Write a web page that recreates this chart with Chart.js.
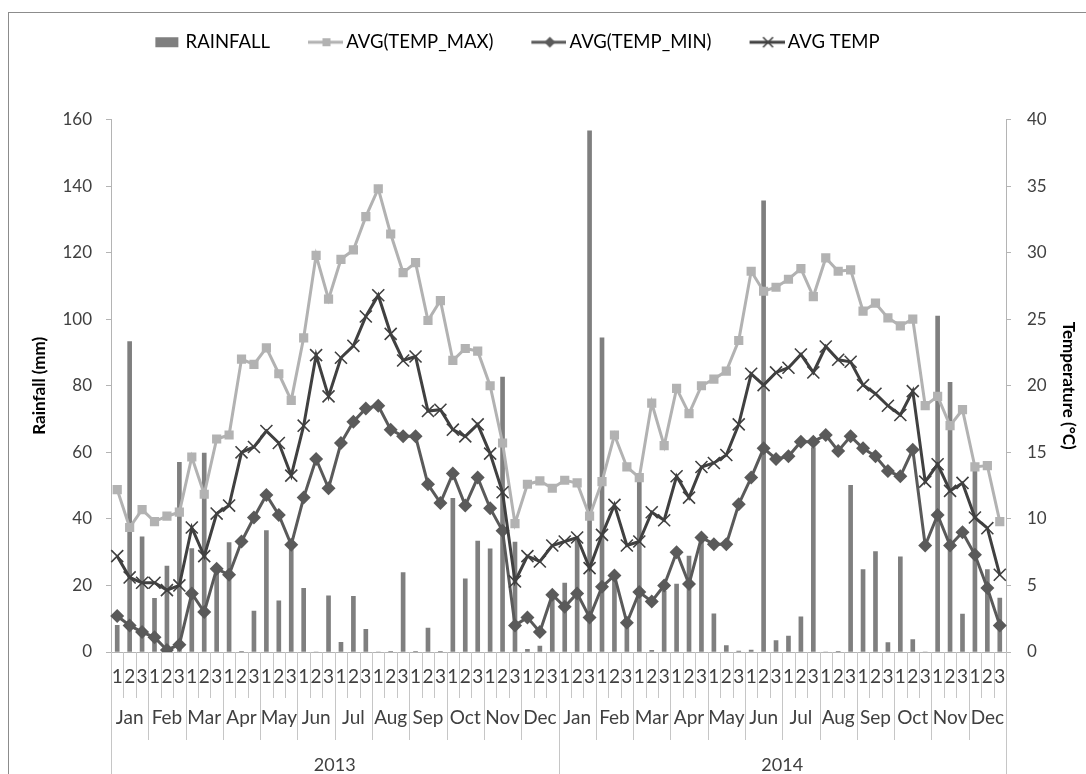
<!DOCTYPE html>
<html>
<head>
<meta charset="utf-8">
<script src="https://cdn.jsdelivr.net/npm/chart.js"></script>
<style>
  html, body { margin: 0; padding: 0; background: #fff; }
  #wrap { width: 1086px; height: 774px; }
</style>
</head>
<body>
<div id="wrap"><canvas id="chart" width="1086" height="774"></canvas></div>
<script>
const years = ["2013", "2014"];
const months = ["Jan", "Feb", "Mar", "Apr", "May", "Jun", "Jul", "Aug", "Sep", "Oct", "Nov", "Dec"];
const dekads = ["1", "2", "3"];

// rainfall per dekad (mm), Jan 2013 .. Dec 2014
const rainfall = [
  8.0, 93.3, 34.6, 16.1, 25.8, 57.0, 31.1, 59.8, 24.8, 32.9, 0.2, 12.3, 36.5, 15.4, 32.6, 19.1, 0, 16.9,
  2.9, 16.7, 6.8, 0, 0.2, 23.9, 0.2, 7.2, 0.2, 46.2, 22.0, 33.3, 31.0, 82.6, 33.0, 0.8, 1.8, 17.6,
  20.7, 34.4, 156.6, 94.4, 23.5, 9.0, 52.6, 0.5, 18.2, 20.4, 28.8, 34.4, 11.5, 1.9, 0.3, 0.6, 135.6, 3.4,
  4.8, 10.6, 61.4, 0, 0.2, 50.1, 24.8, 30.2, 2.8, 28.6, 3.7, 0, 100.9, 81.0, 11.4, 55.5, 24.8, 16.2
];
const tempMax = [
  12.2, 9.35, 10.7, 9.8, 10.2, 10.5, 14.65, 11.85, 16.0, 16.3, 22.0, 21.6, 22.85, 20.9, 18.9, 23.6, 29.8, 26.5,
  29.5, 30.2, 32.7, 34.8, 31.4, 28.5, 29.25, 24.9, 26.4, 21.9, 22.8, 22.6, 20.0, 15.7, 9.65, 12.6, 12.85, 12.3,
  12.9, 12.7, 10.2, 12.8, 16.3, 13.9, 13.1, 18.7, 15.5, 19.8, 17.9, 20.0, 20.5, 21.1, 23.4, 28.6, 27.1, 27.4,
  28.0, 28.8, 26.7, 29.6, 28.6, 28.7, 25.6, 26.2, 25.1, 24.5, 25.0, 18.5, 19.2, 17.0, 18.2, 13.9, 14.0, 9.8
];
const tempMin = [
  2.7, 2.0, 1.5, 1.1, 0.15, 0.55, 4.4, 3.0, 6.25, 5.8, 8.3, 10.1, 11.8, 10.3, 8.05, 11.6, 14.5, 12.3,
  15.7, 17.3, 18.3, 18.5, 16.7, 16.2, 16.2, 12.6, 11.2, 13.4, 11.0, 13.1, 10.8, 9.1, 2.0, 2.6, 1.5, 4.3,
  3.4, 4.4, 2.6, 4.9, 5.75, 2.2, 4.5, 3.8, 5.0, 7.5, 5.1, 8.6, 8.1, 8.1, 11.1, 13.1, 15.3, 14.5,
  14.7, 15.8, 15.8, 16.3, 15.1, 16.2, 15.3, 14.7, 13.6, 13.2, 15.2, 8.0, 10.3, 8.0, 9.0, 7.3, 4.8, 2.0
];
const tempAvg = [
  7.2, 5.6, 5.2, 5.2, 4.65, 5.0, 9.35, 7.2, 10.4, 11.0, 15.0, 15.4, 16.6, 15.7, 13.25, 17.0, 22.3, 19.2,
  22.1, 23.0, 25.2, 26.8, 23.9, 21.9, 22.2, 18.1, 18.2, 16.7, 16.2, 17.1, 14.9, 12.0, 5.3, 7.2, 6.8, 8.0,
  8.3, 8.6, 6.3, 8.8, 11.05, 8.0, 8.3, 10.5, 9.9, 13.2, 11.6, 13.9, 14.2, 14.8, 17.1, 20.9, 20.05, 21.0,
  21.35, 22.35, 21.0, 22.95, 21.95, 21.8, 20.05, 19.4, 18.5, 17.8, 19.6, 12.8, 14.1, 12.1, 12.7, 10.1, 9.3, 5.8
];
const rainTicks = [0, 20, 40, 60, 80, 100, 120, 140, 160];
const tempTicks = [0, 5, 10, 15, 20, 25, 30, 35, 40];

const labels = years.flatMap((y) => months.flatMap((m) => dekads.map((d) => `${d} ${m} ${y}`)));

const FONT = "Lato, 'Open Sans', sans-serif";
const C_BAR = "#7f7f7f", C_MAX = "#b2b2b2", C_MIN = "#5a5a5a", C_AVG = "#404040";
const C_AXIS = "#b4b4b4";

// legend swatches: line + marker, drawn a bit wider than the box so the line reaches the text
function icon(kind, color) {
  const c = document.createElement("canvas");
  c.width = 46; c.height = 14;
  const g = c.getContext("2d");
  if (kind === "bar") {
    g.fillStyle = color;
    g.fillRect(19, 2, 23, 10);
    return c;
  }
  const mx = 29.5;
  g.strokeStyle = color; g.fillStyle = color; g.lineWidth = 3;
  g.beginPath(); g.moveTo(11, 7); g.lineTo(46, 7); g.stroke();
  if (kind === "rect") g.fillRect(mx - 4, 3, 8, 8);
  if (kind === "diamond") { g.beginPath(); g.moveTo(mx, 1.5); g.lineTo(mx + 5.5, 7); g.lineTo(mx, 12.5); g.lineTo(mx - 5.5, 7); g.closePath(); g.fill(); }
  if (kind === "cross") { g.lineWidth = 1.6; g.beginPath(); g.moveTo(mx - 5, 2); g.lineTo(mx + 5, 12); g.moveTo(mx + 5, 2); g.lineTo(mx - 5, 12); g.stroke(); }
  return c;
}

const legendSpace = {
  id: "legendSpace",
  beforeInit(chart) {
    const fit = chart.legend.fit;
    chart.legend.fit = function () { fit.bind(chart.legend)(); this.height += 58; };
  },
  afterLayout(chart) {
    // the reference legend sits a little left of the page centre
    chart.legend.right -= 64;
  }
};

const frame = {
  id: "frame",
  beforeDraw(chart) {
    const { ctx } = chart;
    ctx.save();
    ctx.strokeStyle = "#8c8c8c"; ctx.lineWidth = 1;
    ctx.strokeRect(8.5, 12.5, chart.width + 20, chart.height + 20);
    ctx.restore();
  }
};

// three level category axis: dekad / month / year
const categoryAxis = {
  id: "categoryAxis",
  afterDraw(chart) {
    const { ctx } = chart;
    const xs = chart.scales.x;
    const top = chart.chartArea.bottom;
    const n = labels.length;
    const edge = (i) => i === 0 ? xs.left : i === n ? xs.right : (xs.getPixelForValue(i - 1) + xs.getPixelForValue(i)) / 2;
    ctx.save();
    ctx.strokeStyle = "#c6c6c6"; ctx.lineWidth = 1;
    for (let i = 0; i <= n; i++) {
      const x = Math.round(edge(i)) + 0.5;
      let bottom = top + 46;
      if (i % dekads.length === 0) bottom = top + 88;
      if (i % (dekads.length * months.length) === 0) bottom = chart.height;
      ctx.beginPath(); ctx.moveTo(x, top); ctx.lineTo(x, bottom); ctx.stroke();
    }
    ctx.fillStyle = "#404040";
    ctx.textAlign = "center"; ctx.textBaseline = "middle";
    ctx.font = `19px ${FONT}`;
    for (let i = 0; i < n; i++) {
      ctx.fillText(dekads[i % dekads.length], xs.getPixelForValue(i), top + 25);
    }
    const perMonth = dekads.length;
    for (let k = 0; k < n / perMonth; k++) {
      const x = (edge(k * perMonth) + edge((k + 1) * perMonth)) / 2;
      ctx.fillText(months[k % months.length], x, top + 66);
    }
    ctx.font = `18px ${FONT}`;
    const perYear = perMonth * months.length;
    for (let k = 0; k < years.length; k++) {
      const x = (edge(k * perYear) + edge((k + 1) * perYear)) / 2;
      ctx.fillText(years[k], x, top + 113);
    }
    ctx.restore();
  }
};

new Chart(document.getElementById("chart"), {
  type: "bar",
  data: {
    labels,
    datasets: [
      { type: "bar", label: "RAINFALL", data: rainfall, yAxisID: "y", backgroundColor: C_BAR, barThickness: 4, order: 10, icon: icon("bar", C_BAR) },
      { type: "line", label: "AVG(TEMP_MAX)", data: tempMax, yAxisID: "y1", borderColor: C_MAX, backgroundColor: C_MAX, borderWidth: 3,
        pointStyle: "rect", pointRadius: 6.5, pointBorderWidth: 0, order: 3, icon: icon("rect", C_MAX) },
      { type: "line", label: "AVG(TEMP_MIN)", data: tempMin, yAxisID: "y1", borderColor: C_MIN, backgroundColor: C_MIN, borderWidth: 3,
        pointStyle: "rectRot", pointRadius: 7, pointBorderWidth: 0, order: 2, icon: icon("diamond", C_MIN) },
      { type: "line", label: "AVG TEMP", data: tempAvg, yAxisID: "y1", borderColor: C_AVG, backgroundColor: C_AVG, borderWidth: 3,
        pointStyle: "crossRot", pointRadius: 8.5, pointBorderWidth: 1.6, order: 1, icon: icon("cross", C_AVG) },
    ],
  },
  options: {
    responsive: false,
    animation: false,
    layout: { padding: { top: 0, left: 0, right: 0, bottom: 0 } },
    plugins: {
      tooltip: { enabled: false },
      legend: {
        position: "top",
        labels: {
          usePointStyle: true,
          pointStyleWidth: 34,
          padding: 33,
          color: "#000",
          font: { family: FONT, size: 18.5 },
          sort: (a, b) => a.datasetIndex - b.datasetIndex,
          generateLabels: (chart) => chart.data.datasets.map((ds, i) => ({
            text: ds.label, pointStyle: ds.icon, fillStyle: ds.backgroundColor, strokeStyle: ds.borderColor,
            lineWidth: 0, hidden: false, datasetIndex: i,
          })),
        },
      },
    },
    scales: {
      x: {
        ticks: { display: false },
        grid: { display: false },
        border: { color: C_AXIS },
        afterFit: (s) => { s.height = 122; },
      },
      y: {
        position: "left",
        min: rainTicks[0], max: rainTicks[rainTicks.length - 1],
        afterBuildTicks: (s) => { s.ticks = rainTicks.map((v) => ({ value: v })); },
        ticks: { color: "#404040", padding: 14, font: { family: FONT, size: 17 } },
        grid: { drawOnChartArea: false, color: C_AXIS, tickLength: 5 },
        border: { color: C_AXIS },
        title: { display: true, text: "Rainfall (mm)", color: "#000", padding: { top: 29 }, font: { family: FONT, size: 17, weight: "bold" } },
        afterFit: (s) => { s.width = 111; },
      },
      y1: {
        position: "right",
        min: tempTicks[0], max: tempTicks[tempTicks.length - 1],
        afterBuildTicks: (s) => { s.ticks = tempTicks.map((v) => ({ value: v })); },
        ticks: { color: "#404040", padding: 16, font: { family: FONT, size: 17 } },
        grid: { drawOnChartArea: false, color: C_AXIS, tickLength: 5 },
        border: { color: C_AXIS },
        title: { display: true, text: "Temperature (°C)", color: "#000", padding: { top: 7 }, font: { family: FONT, size: 17, weight: "bold" } },
        afterFit: (s) => { s.width = 80; },
      },
    },
  },
  plugins: [legendSpace, frame, categoryAxis],
});
</script>
</body>
</html>
